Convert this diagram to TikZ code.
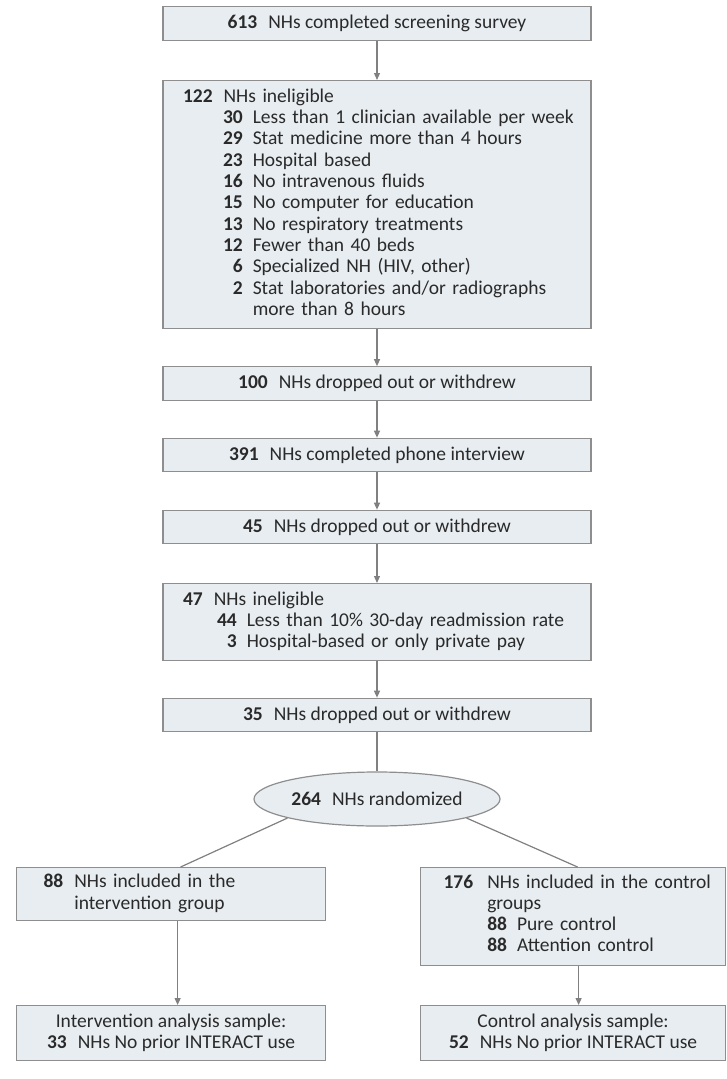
\documentclass[tikz,border=0pt]{standalone}
\usepackage{fontspec}
\setmainfont{Carlito}
\usetikzlibrary{arrows.meta,shapes.geometric}
\definecolor{boxfill}{HTML}{E8EDF1}
\definecolor{boxline}{HTML}{8E8E8E}
\definecolor{conn}{HTML}{808080}
\definecolor{txt}{HTML}{2A2A2A}
\newcommand{\nbr}[1]{\textbf{#1}\hspace{11pt}}
\newcommand{\fsz}{\fontsize{19.5}{21.3}\selectfont}
\begin{document}
\begin{tikzpicture}[x=1pt,y=1pt,
  box/.style={draw=boxline,fill=boxfill,line width=1.2pt,text=txt,font=\fsz,inner xsep=0pt,inner ysep=0pt},
  mainbox/.style={box,minimum width=428pt,minimum height=33.5pt},
  arr/.style={draw=conn,line width=1.2pt,-{Triangle[length=7pt,width=6pt]}},
  ln/.style={draw=conn,line width=1.2pt}]
\useasboundingbox (0,0) rectangle (727,-1079);

\node[mainbox] (b1) at (377,-23.5) {\nbr{613}NHs completed screening survey};

\node[box,anchor=north,minimum width=428pt,text width=388pt,inner xsep=20pt,inner ysep=6.85pt,align=left] (b2) at (377,-80) {\noindent\begin{tabular}{@{\hspace{40pt}}r@{\hspace{10pt}}l@{}}
\multicolumn{2}{@{}l@{}}{\nbr{122}NHs ineligible}\\
\textbf{30}&Less than 1 clinician available per week\\
\textbf{29}&Stat medicine more than 4 hours\\
\textbf{23}&Hospital based\\
\textbf{16}&No intravenous fluids\\
\textbf{15}&No computer for education\\
\textbf{13}&No respiratory treatments\\
\textbf{12}&Fewer than 40 beds\\
\textbf{6}&Specialized NH (HIV, other)\\
\textbf{2}&Stat laboratories and/or radiographs\\
&more than 8 hours
\end{tabular}};

\node[mainbox] (b3) at (377,-383.5) {\nbr{100}NHs dropped out or withdrew};
\node[mainbox] (b4) at (377,-455) {\nbr{391}NHs completed phone interview};
\node[mainbox] (b5) at (377,-527) {\nbr{45}NHs dropped out or withdrew};

\node[box,anchor=north,minimum width=428pt,text width=388pt,inner xsep=20pt,inner ysep=6.5pt,align=left] (b6) at (377,-583) {\noindent\begin{tabular}{@{\hspace{34pt}}r@{\hspace{10pt}}l@{}}
\multicolumn{2}{@{}l@{}}{\nbr{47}NHs ineligible}\\
\textbf{44}&Less than 10\% 30-day readmission rate\\
\textbf{3}&Hospital-based or only private pay
\end{tabular}};

\node[mainbox] (b7) at (377,-715) {\nbr{35}NHs dropped out or withdrew};

\node[box,ellipse,minimum width=246pt,minimum height=54pt] (ell) at (377,-799) {\nbr{264}NHs randomized};

\node[box,anchor=north west,text width=255pt,inner xsep=27pt,inner ysep=5.2pt,align=left] (lb) at (16,-867) {\noindent\begin{tabular}{@{}r@{\hspace{11pt}}l@{}}\textbf{88}&NHs included in the\\&intervention group\end{tabular}};

\node[box,anchor=north west,text width=259pt,inner xsep=23pt,inner ysep=5.5pt,align=left] (rb) at (420,-867) {\noindent\begin{tabular}{@{}r@{\hspace{14pt}}l@{}}\textbf{176}&NHs included in the control\\&groups\\&\textbf{88}\hspace{10pt}Pure control\\&\textbf{88}\hspace{10pt}Attention control\\[2pt]\end{tabular}};

\node[box,anchor=north west,minimum width=309pt,minimum height=55pt,align=center] (blb) at (16,-1005) {Intervention analysis sample:\\\nbr{33}NHs No prior INTERACT use};

\node[box,anchor=north west,minimum width=305pt,minimum height=55pt,align=center] (brb) at (420,-1005) {Control analysis sample:\\\nbr{52}NHs No prior INTERACT use};

\draw[arr] (b1.south) -- (b2.north);
\draw[arr] (b2.south) -- (b3.north);
\draw[arr] (b3.south) -- (b4.north);
\draw[arr] (b4.south) -- (b5.north);
\draw[arr] (b5.south) -- (b6.north);
\draw[arr] (b6.south) -- (b7.north);
\draw[ln] (b7.south) -- (ell.north);
\draw[ln] (ell.192) -- ([xshift=9.5pt]lb.north);
\draw[ln] (ell.348) -- ([xshift=4.5pt]rb.north);
\draw[arr] ([xshift=6.5pt]lb.south) -- ([xshift=6.5pt]blb.north);
\draw[arr] ([xshift=5.5pt]rb.south) -- ([xshift=5.5pt]brb.north);
\end{tikzpicture}
\end{document}
